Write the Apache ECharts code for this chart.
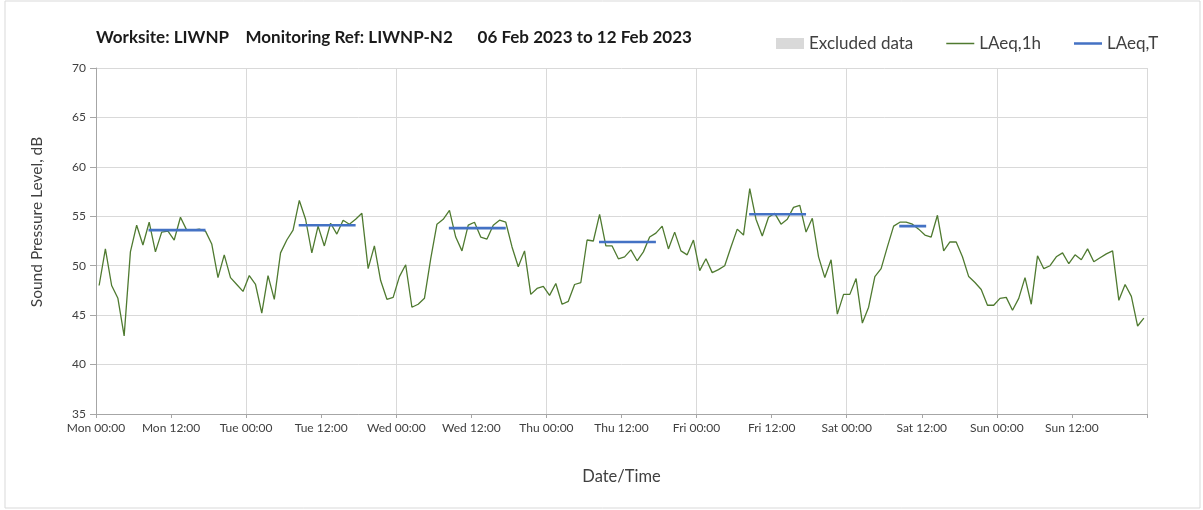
<!DOCTYPE html>
<html>
<head>
<meta charset="utf-8">
<script src="https://cdn.jsdelivr.net/npm/echarts@6/dist/echarts.min.js"></script>
<style>
  html, body { margin: 0; padding: 0; background: #fff; }
  #chart { width: 1203px; height: 510px; }
</style>
</head>
<body>
<div id="chart"></div>
<script>
// hourly LAeq,1h values, Mon 00:00 .. Sun 23:00
var laeq1h = [
  48.0, 51.7, 48.0, 46.7, 42.9, 51.4, 54.1, 52.1, 54.4, 51.4, 53.4, 53.5,
  52.6, 54.9, 53.6, 53.6, 53.7, 53.5, 52.2, 48.8, 51.1, 48.8, 48.1, 47.4,
  49.0, 48.1, 45.2, 49.0, 46.6, 51.3, 52.6, 53.6, 56.6, 54.7, 51.3, 54.0,
  52.0, 54.3, 53.2, 54.6, 54.2, 54.7, 55.3, 49.7, 52.0, 48.5, 46.6, 46.8,
  48.9, 50.1, 45.8, 46.1, 46.7, 50.7, 54.2, 54.7, 55.6, 52.9, 51.5, 54.1,
  54.4, 52.9, 52.7, 54.1, 54.6, 54.4, 51.9, 49.9, 51.5, 47.1, 47.7, 47.9,
  47.0, 48.2, 46.1, 46.4, 48.1, 48.3, 52.6, 52.5, 55.2, 52.0, 52.0, 50.7,
  50.9, 51.6, 50.5, 51.4, 52.9, 53.3, 54.0, 51.7, 53.4, 51.5, 51.1, 52.6,
  49.5, 50.7, 49.3, 49.6, 50.0, 51.9, 53.7, 53.1, 57.8, 54.7, 53.0, 54.9,
  55.3, 54.2, 54.7, 55.9, 56.1, 53.4, 54.8, 50.9, 48.8, 50.6, 45.1, 47.1,
  47.1, 48.7, 44.2, 45.8, 48.9, 49.7, 51.9, 54.0, 54.4, 54.4, 54.2, 53.7,
  53.1, 52.9, 55.1, 51.5, 52.4, 52.4, 50.9, 48.9, 48.3, 47.6, 46.0, 46.0,
  46.7, 46.8, 45.5, 46.7, 48.8, 46.1, 51.0, 49.7, 50.0, 50.9, 51.3, 50.2,
  51.1, 50.6, 51.7, 50.4, 50.8, 51.2, 51.5, 46.5, 48.1, 46.9, 43.9, 44.7
];

// daytime LAeq,T per day (Mon..Sat), with start/end hour within the day
var laeqT = [53.6, 54.1, 53.8, 52.4, 55.2, 54.0];
var tStart = [8.4, 8.4, 8.4, 8.4, 8.4, 8.4];
var tEnd = [17.5, 17.5, 17.5, 17.5, 17.5, 12.7];

var dayNames = ['Mon', 'Tue', 'Wed', 'Thu', 'Fri', 'Sat', 'Sun'];
var yTicks = [35, 70, 5]; // min, max, step

var hourly = laeq1h.map(function (v, i) { return [i + 0.5, v]; });
var periods = [];
for (var d = 0; d < laeqT.length; d++) {
  periods.push([d * 24 + tStart[d], laeqT[d]]);
  periods.push([d * 24 + tEnd[d], laeqT[d]]);
  periods.push([d * 24 + tEnd[d] + 0.01, null]);
}

// thin horizontal line as legend icon (bbox kept at 28x11)
var lineIcon = 'path://M0,0 L0.01,0 L0.01,0.01 L0,0.01 Z M0,10.99 L0.01,10.99 L0.01,11 L0,11 Z M0,4.8 L28,4.8 L28,6.2 L0,6.2 Z';
var thickIcon = 'path://M0,0 L0.01,0 L0.01,0.01 L0,0.01 Z M0,10.99 L0.01,10.99 L0.01,11 L0,11 Z M0,4.3 L28,4.3 L28,6.7 L0,6.7 Z';

var fontName = 'Lato, "Open Sans", sans-serif';
var chart = echarts.init(document.getElementById('chart'));
var option = {
  backgroundColor: '#fff',
  animation: false,
  textStyle: { fontFamily: fontName },
  title: {
    text: 'Worksite: LIWNP    Monitoring Ref: LIWNP-N2      06 Feb 2023 to 12 Feb 2023',
    left: 91,
    top: 24,
    textStyle: { fontSize: 17, fontWeight: 'bold', color: '#1a1a1a', fontFamily: fontName }
  },
  legend: {
    left: 771,
    top: 30,
    itemWidth: 28,
    itemHeight: 11,
    itemGap: 33,
    textStyle: { fontSize: 17, color: '#404040', fontFamily: fontName },
    data: [
      { name: 'Excluded data', icon: 'rect' },
      { name: 'LAeq,1h', icon: lineIcon },
      { name: 'LAeq,T', icon: thickIcon }
    ]
  },
  graphic: [{
    type: 'rect',
    shape: { x: 5, y: 1, width: 1195, height: 507 },
    style: { fill: 'none', stroke: '#d9d9d9', lineWidth: 1 },
    silent: true
  }, {
    type: 'text',
    x: 37,
    y: 222,
    rotation: Math.PI / 2,
    style: {
      text: 'Sound Pressure Level, dB',
      fill: '#404040',
      font: '15.5px ' + fontName,
      align: 'center',
      verticalAlign: 'middle'
    },
    silent: true
  }],
  grid: { left: 96, right: 56, top: 68, bottom: 96, containLabel: false },
  xAxis: [{
    type: 'value',
    min: 0,
    max: 168,
    interval: 12,
    name: 'Date/Time',
    nameLocation: 'middle',
    nameGap: 54,
    nameTextStyle: { fontSize: 16.5, color: '#404040' },
    axisLine: { lineStyle: { color: '#a6a6a6' } },
    axisTick: { show: true, length: 4, lineStyle: { color: '#a6a6a6' } },
    axisLabel: {
      fontSize: 12,
      color: '#404040',
      margin: 8,
      formatter: function (v) {
        if (v >= 168) return '';
        return dayNames[Math.floor(v / 24)] + ' ' + (v % 24 === 0 ? '00:00' : '12:00');
      }
    },
    splitLine: { show: false }
  }, {
    type: 'value',
    min: 0,
    max: 168,
    interval: 24,
    position: 'bottom',
    axisLine: { show: false },
    axisTick: { show: false },
    axisLabel: { show: false },
    splitLine: { show: true, lineStyle: { color: '#d9d9d9' } }
  }],
  yAxis: {
    type: 'value',
    min: yTicks[0],
    max: yTicks[1],
    interval: yTicks[2],
    axisLine: { show: true, lineStyle: { color: '#a6a6a6' } },
    axisTick: { show: true, length: 6, lineStyle: { color: '#a6a6a6' } },
    axisLabel: { fontSize: 12, color: '#404040', margin: 10 },
    splitLine: { lineStyle: { color: '#d9d9d9' } }
  },
  series: [{
    name: 'Excluded data',
    type: 'bar',
    data: [],
    itemStyle: { color: '#d9d9d9' }
  }, {
    name: 'LAeq,1h',
    type: 'line',
    data: hourly,
    symbol: 'none',
    lineStyle: { color: '#4f7a30', width: 1.3 },
    itemStyle: { color: '#4f7a30' },
    z: 3
  }, {
    name: 'LAeq,T',
    type: 'line',
    data: periods,
    symbol: 'none',
    connectNulls: false,
    lineStyle: { color: '#4472c4', width: 2.6 },
    itemStyle: { color: '#4472c4' },
    z: 4
  }]
};
chart.setOption(option);
</script>
</body>
</html>
